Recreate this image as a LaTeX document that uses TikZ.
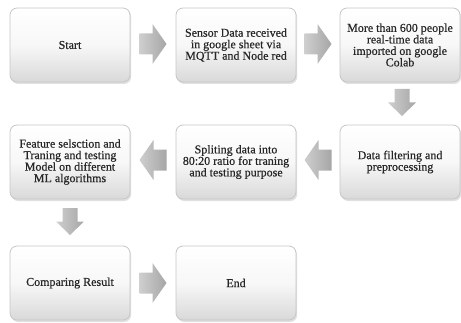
\documentclass[tikz,border=0pt]{standalone}
\usepackage{fontspec}
\setmainfont{Liberation Serif}[FakeBold=0.5]
\usetikzlibrary{shadows,calc}

\tikzset{
  x=1pt, y=1pt,
  stepbox/.style={
    rectangle, rounded corners=7pt,
    minimum width=120pt, minimum height=74pt,
    inner sep=2pt, align=center,
    font=\fontsize{12}{11.5}\selectfont, text=black!85,
    top color=white, bottom color=gray!30, middle color=white!94!gray,
    draw=gray!45, line width=0.8pt,
    drop shadow={shadow xshift=1.2pt, shadow yshift=-2pt, opacity=0.3, fill=gray!80}
  },
  arrowface/.style={left color=gray!38, right color=gray!70, draw=none},
  % wide block arrow for the horizontal links, pointing along +x
  harrow/.pic={
    \shade[arrowface]
      (-13.5,-10.5) -- (-0.5,-10.5) -- (-0.5,-20) -- (13.5,0) --
      (-0.5,20) -- (-0.5,10.5) -- (-13.5,10.5) -- cycle;
  },
  % narrower block arrow pointing down
  varrow/.pic={
    \shade[arrowface]
      (-7.5,13.5) -- (7.5,13.5) -- (7.5,0) -- (14,0) --
      (0,-13.5) -- (-14,0) -- (-7.5,0) -- cycle;
  }
}

\begin{document}
\begin{tikzpicture}
  \useasboundingbox (0,0) rectangle (461,322);

  % first row
  \node[stepbox] (start)  at (70,277)  {Start};
  \node[stepbox] (sensor) at (236,277) {Sensor Data received\\in google sheet via\\MQTT and Node red};
  \node[stepbox] (colab)  at (400,277) {More than 600 people\\real-time data\\imported on google\\Colab};

  % second row
  \node[stepbox] (train)  at (70,160)  {Feature selsction and\\Traning and testing\\Model on different\\ML algorithms};
  \node[stepbox] (split)  at (236,160) {Spliting data into\\80:20 ratio for traning\\and testing purpose};
  \node[stepbox] (filter) at (400,160) {Data filtering and\\preprocessing};

  % third row
  \node[stepbox] (compare) at (70,39)  {Comparing Result};
  \node[stepbox] (finish)  at (236,39) {End};

  % block arrows between the steps
  \pic at ($(start.east)!0.5!(sensor.west)+(0,1)$) {harrow};
  \pic at ($(sensor.east)!0.5!(colab.west)+(0,1)$) {harrow};
  \pic at ($(colab.south)!0.5!(filter.north)+(2,1)$) {varrow};
  \pic[rotate=180] at ($(filter.west)!0.5!(split.east)+(0,2)$) {harrow};
  \pic[rotate=180] at ($(split.west)!0.5!(train.east)+(0,2)$) {harrow};
  \pic at ($(train.south)!0.5!(compare.north)+(0,1)$) {varrow};
  \pic at ($(compare.east)!0.5!(finish.west)$) {harrow};
\end{tikzpicture}
\end{document}
